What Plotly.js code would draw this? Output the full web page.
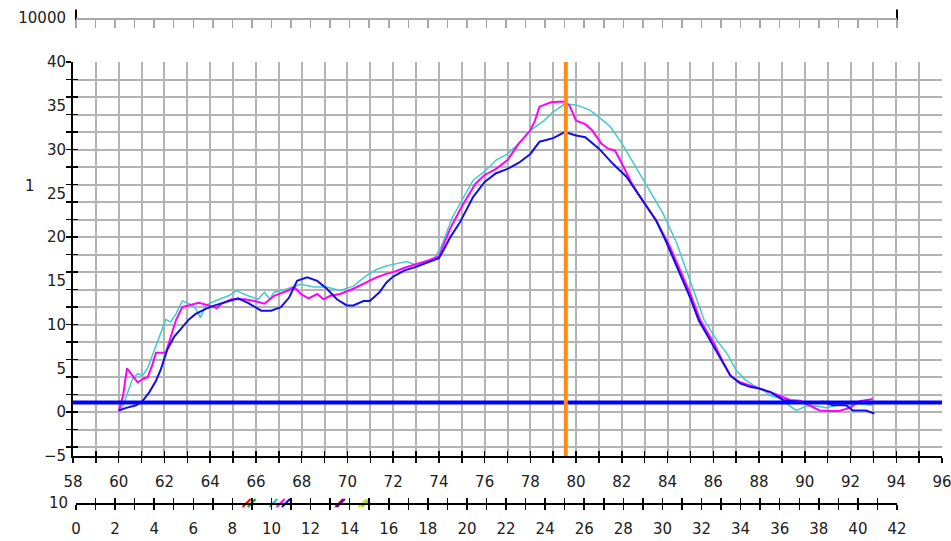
<!DOCTYPE html>
<html><head><meta charset="utf-8">
<script src="https://cdn.plot.ly/plotly-3.0.1.min.js"></script>
<style>html,body{margin:0;padding:0;background:#fff}#c{width:951px;height:541px}</style>
</head><body><div id="c"></div>
<script>
// ---- data ----
const magentaX = [60.0,60.19,60.36,60.55,60.83,61.05,61.27,61.48,61.63,62.06,62.27,62.5,62.78,63.07,63.5,63.93,64.29,64.5,64.93,65.5,65.94,66.37,66.8,67.4,67.67,67.96,68.3,68.68,68.96,69.25,69.68,70.26,70.83,71.27,71.7,72.0,72.5,73.0,73.5,74.0,74.5,75.0,75.6,76.0,76.5,77.0,77.5,78.0,78.2,78.4,78.9,79.4,79.7,80.0,80.4,80.7,81.1,81.4,81.7,82.0,82.4,82.7,83.2,83.5,84.1,84.5,85.0,85.43,86.0,86.45,86.74,87.1,87.6,88.0,88.5,88.9,89.35,89.8,90.2,90.65,91.1,91.5,91.96,92.4,92.97];
const magentaY = [0.1,1.9,5.0,4.4,3.4,3.8,4.0,5.5,6.8,6.8,8.7,10.5,12.0,12.2,12.5,12.2,11.9,12.4,12.9,12.9,12.7,12.4,13.3,13.9,14.3,13.5,13.0,13.5,12.9,13.3,13.5,14.1,14.8,15.4,15.8,16.0,16.5,16.9,17.3,17.8,21.0,23.5,26.1,27.1,27.8,28.8,30.7,32.2,33.3,34.9,35.4,35.5,35.1,33.3,32.9,32.2,30.7,30.1,29.9,28.4,26.3,25.0,23.1,21.9,18.9,16.5,13.5,10.5,8.0,5.6,4.2,3.5,3.1,2.7,2.3,1.9,1.4,1.3,0.8,0.2,0.15,0.15,0.5,1.25,1.5];

const cyanX = [60.0,60.2,60.4,60.6,60.83,61.05,61.27,61.63,61.9,62.06,62.27,62.5,62.78,63.07,63.35,63.57,63.8,64.2,64.8,65.15,65.65,66.09,66.37,66.6,66.8,67.38,67.96,68.53,69.1,69.68,70.26,70.83,71.27,71.7,72.2,72.6,73.0,73.4,73.8,74.1,74.6,75.0,75.5,76.0,76.5,77.0,77.5,78.0,78.6,79.0,79.5,80.0,80.6,81.0,81.5,82.0,82.6,83.2,83.8,84.4,85.0,85.6,86.16,86.6,87.0,87.4,87.75,88.2,88.5,88.9,89.35,89.64,90.07,90.5,90.94,91.4,91.8,92.25,92.97];
const cyanY = [0,0.8,2.3,3.8,4.4,4.2,5.1,7.6,9.5,10.6,10.3,11.2,12.7,12.4,11.9,10.8,12.2,12.7,13.3,13.9,13.3,12.9,13.7,12.9,13.7,14.1,14.6,14.3,14.3,13.9,14.4,15.6,16.3,16.7,17.0,17.2,16.8,17.0,17.6,18.9,22.3,24.2,26.5,27.5,28.8,29.5,30.7,32.2,33.3,34.3,35.2,35.1,34.5,33.7,32.6,30.7,28.0,25.4,22.7,19.3,14.8,10.5,8.2,6.7,4.8,3.7,3.1,2.5,1.9,1.6,0.7,0.2,0.7,0.7,0.5,0.8,0.8,1.0,0.8];

const blueX = [60.0,60.33,60.76,61.05,61.34,61.63,61.84,62.13,62.42,62.78,63.07,63.35,63.8,64.2,64.8,65.22,65.65,66.23,66.66,67.09,67.45,67.8,68.24,68.68,69.1,69.54,69.97,70.26,70.7,70.98,71.4,71.7,72.0,72.5,73.0,73.5,74.0,74.2,74.5,74.9,75.5,76.0,76.5,77.0,77.5,78.0,78.4,79.0,79.5,80.0,80.4,81.0,81.6,82.2,82.8,83.5,83.9,84.5,85.0,85.36,86.0,86.45,86.74,87.17,87.6,88.0,88.5,89.06,89.64,90.2,90.8,91.23,91.8,92.1,92.68,93.04];
const blueY = [0.2,0.5,0.8,1.3,2.3,3.6,4.9,7.2,8.6,9.7,10.6,11.2,11.8,12.2,12.7,13.0,12.5,11.6,11.6,12.0,13.1,15.0,15.4,15.0,14.1,12.9,12.2,12.2,12.7,12.7,13.7,14.8,15.5,16.2,16.6,17.1,17.6,18.5,20.0,21.6,24.6,26.3,27.3,27.8,28.5,29.5,30.9,31.3,32.0,31.6,31.4,30.1,28.4,26.9,24.6,21.9,19.7,16.0,13.0,10.5,7.5,5.4,4.2,3.3,2.9,2.7,2.3,1.4,1.2,1.1,1.2,0.8,0.8,0.2,0.2,-0.15];

const cursorX = 79.55;      // orange cursor
const thresholdY = 1.1;     // blue threshold line
const xRange = [58, 96];
const yRange = [-5, 40];
const secRange = [0, 42];
const topLabel = ['10000'];
const secLabel = ['10'];
const yTitle = '1';
const markX = [8.73, 8.99, 10.09, 10.47, 10.74, 13.47, 13.55, 14.66, 14.82];
const markColors = ['#FF0000','#00B000','#20C0C0','#FF00FF','#0000FF','#C00000','#6000C0','#E0E000','#80E000'];

// ---- styles ----
const grid = '#B4B4B4';
const font = {family: 'DejaVu Sans, sans-serif', size: 15, color: '#202020'};
const secDomain = [3/869, 824/869];

const traces = [
  {x: cyanX, y: cyanY, type: 'scatter', mode: 'lines', line: {color: '#40CCCC', width: 1.5}, xaxis: 'x', yaxis: 'y', hoverinfo: 'skip'},
  {x: magentaX, y: magentaY, type: 'scatter', mode: 'lines', line: {color: '#FF00FF', width: 2}, xaxis: 'x', yaxis: 'y', hoverinfo: 'skip'},
  {x: blueX, y: blueY, type: 'scatter', mode: 'lines', line: {color: '#1010E8', width: 2}, xaxis: 'x', yaxis: 'y', hoverinfo: 'skip'},
  {x: xRange, y: [thresholdY, thresholdY], type: 'scatter', mode: 'lines', line: {color: '#0000FF', width: 4}, xaxis: 'x', yaxis: 'y', hoverinfo: 'skip'},
  {x: [cursorX, cursorX], y: yRange, type: 'scatter', mode: 'lines', line: {color: '#FF8C10', width: 4}, xaxis: 'x', yaxis: 'y', hoverinfo: 'skip'},
  // overlay registrations
  {x: [], y: [], xaxis: 'x4', yaxis: 'y', type: 'scatter'},
  {x: [], y: [], xaxis: 'x5', yaxis: 'y', type: 'scatter'},
  {x: [], y: [], xaxis: 'x', yaxis: 'y4', type: 'scatter'},
  {x: [], y: [], xaxis: 'x', yaxis: 'y5', type: 'scatter'},
  // second bottom axis marks
  {x: markX, y: markX.map(() => 0), xaxis: 'x2', yaxis: 'y2', type: 'scatter', mode: 'markers', cliponaxis: false,
   marker: {symbol: 'line-ne', size: 8, color: markColors, line: {color: markColors, width: 2}}, hoverinfo: 'skip'},
  {x: [], y: [], xaxis: 'x6', yaxis: 'y2', type: 'scatter'},
  {x: [], y: [], xaxis: 'x7', yaxis: 'y2', type: 'scatter'},
  // top axis end markers
  {x: secRange, y: [0, 0], xaxis: 'x3', yaxis: 'y3', type: 'scatter', mode: 'markers', cliponaxis: false,
   marker: {symbol: 'line-ns', size: 12, line: {color: '#000', width: 2}}, hoverinfo: 'skip'}
];

const noAx = {showgrid: false, zeroline: false, showline: false};
const layout = {
  width: 951, height: 541,
  margin: {l: 73, r: 9, t: 10, b: 10},
  paper_bgcolor: '#fff', plot_bgcolor: 'rgba(0,0,0,0)',
  showlegend: false, font: font,
  xaxis: {domain: [0, 1], anchor: 'y', range: xRange, tick0: 58, dtick: 1, ticks: 'outside', ticklen: 5, tickwidth: 1.5, tickcolor: '#000',
          showline: true, linecolor: '#000', linewidth: 2, showgrid: true, gridcolor: grid, gridwidth: 2, zeroline: false, showticklabels: false},
  xaxis4: Object.assign({overlaying: 'x', anchor: 'y', range: xRange, tick0: 58, dtick: 1, ticks: 'inside', ticklen: 5, tickwidth: 1.5, tickcolor: '#000', showticklabels: false}, noAx),
  xaxis5: Object.assign({overlaying: 'x', anchor: 'y', range: xRange, tick0: 58, dtick: 2, ticks: '', showticklabels: true, ticklabelstandoff: 15, ticklabeloverflow: 'allow', tickfont: font}, noAx),
  yaxis: {domain: [0.14395, 0.9002], anchor: 'x', range: yRange, tick0: 0, dtick: 2, ticks: 'outside', ticklen: 5, tickwidth: 1.5, tickcolor: '#000',
          showline: true, linecolor: '#000', linewidth: 2, showgrid: true, gridcolor: grid, gridwidth: 2, zeroline: false, showticklabels: false},
  yaxis4: Object.assign({overlaying: 'y', anchor: 'x', range: yRange, tick0: 0, dtick: 2, ticks: 'inside', ticklen: 5, tickwidth: 1.5, tickcolor: '#000', showticklabels: false}, noAx),
  yaxis5: Object.assign({overlaying: 'y', anchor: 'x', range: yRange, tick0: 0, dtick: 5, ticks: '', showticklabels: true, ticklabelstandoff: 6, ticklabeloverflow: 'allow', tickfont: font}, noAx),
  xaxis2: {domain: secDomain, anchor: 'y2', range: secRange, tick0: 0, dtick: 1, ticks: 'outside', ticklen: 5, tickwidth: 1.5, tickcolor: '#000',
           showline: true, linecolor: '#000', linewidth: 2, showgrid: false, zeroline: false, showticklabels: false},
  xaxis6: Object.assign({overlaying: 'x2', anchor: 'y2', range: secRange, tick0: 0, dtick: 1, ticks: 'inside', ticklen: 5, tickwidth: 1.5, tickcolor: '#000', showticklabels: false}, noAx),
  xaxis7: Object.assign({overlaying: 'x2', anchor: 'y2', range: secRange, tick0: 0, dtick: 2, ticks: '', showticklabels: true, ticklabelstandoff: 15, ticklabeloverflow: 'allow', tickfont: font}, noAx),
  yaxis2: Object.assign({domain: [0.0537, 0.075], anchor: 'x2', range: [0, 1], tickmode: 'array', tickvals: [0], ticktext: secLabel, ticks: '', ticklabelstandoff: 7, ticklabeloverflow: 'allow', tickfont: font}, noAx),
  xaxis3: {domain: secDomain, anchor: 'y3', range: secRange, tick0: 0, dtick: 1, ticks: 'outside', ticklen: 8, tickwidth: 1.5, tickcolor: '#A8A8A8',
           showline: true, linecolor: '#A8A8A8', linewidth: 2, showgrid: false, zeroline: false, showticklabels: false},
  yaxis3: Object.assign({domain: [0.9846, 1], anchor: 'x3', range: [0, 1], tickmode: 'array', tickvals: [0], ticktext: topLabel, ticks: '', ticklabelstandoff: 9, ticklabeloverflow: 'allow', tickfont: font}, noAx),
  annotations: [{text: yTitle, xref: 'paper', yref: 'paper', x: -0.0495, y: 0.662, showarrow: false, font: font, xanchor: 'center', yanchor: 'middle'}]
};

Plotly.newPlot('c', traces, layout, {staticPlot: true, displayModeBar: false});
</script>
</body></html>
